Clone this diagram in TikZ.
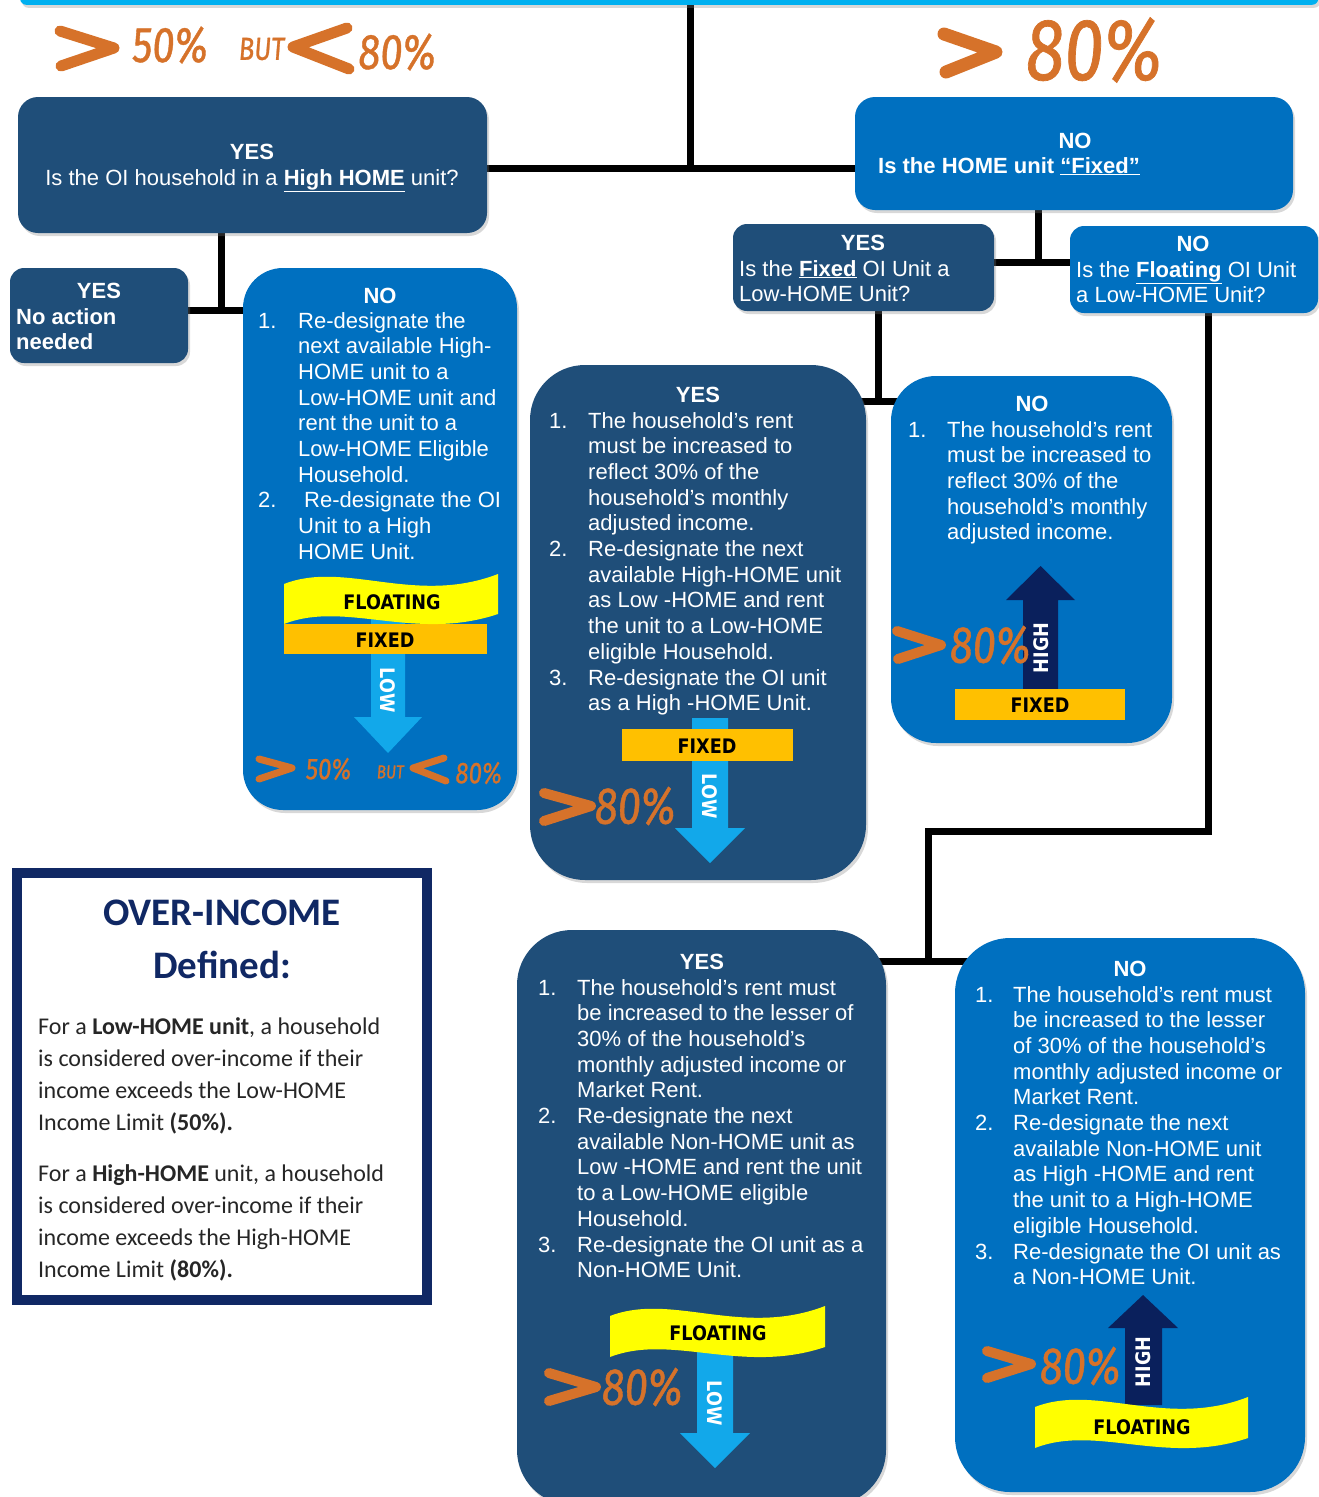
\documentclass[tikz,border=0pt]{standalone}
\usepackage{fontspec}
\setmainfont{Liberation Sans}
\newfontfamily\calfont{Carlito}
\newfontfamily\handfont[FakeStretch=0.8,FakeSlant=0.08,FakeBold=0.8]{Fira Sans}
\newfontfamily\tagfont[FakeStretch=0.88]{DejaVu Sans}
\usetikzlibrary{shadows,backgrounds}

\definecolor{boxnavy}{RGB}{31,78,121}
\definecolor{boxblue}{RGB}{0,112,192}
\definecolor{barcyan}{RGB}{0,176,240}
\definecolor{markorange}{RGB}{214,114,42}
\definecolor{floatyellow}{RGB}{255,255,0}
\definecolor{fixedgold}{RGB}{255,192,0}
\definecolor{lowcyan}{RGB}{18,168,234}
\definecolor{highnavy}{RGB}{10,32,92}
\definecolor{defnavy}{RGB}{16,40,100}

\tikzset{
  navybox/.style={fill=boxnavy, drop shadow={opacity=0.3,shadow xshift=2pt,shadow yshift=-3pt}},
  bluebox/.style={fill=boxblue, drop shadow={opacity=0.3,shadow xshift=2pt,shadow yshift=-3pt}},
  link/.style={line width=7pt, black},
  txt/.style={text=white, inner sep=0pt, font={\fontsize{22}{25.7}\selectfont}},
  head/.style={txt, font={\bfseries\fontsize{22}{25.7}\selectfont}},
  tag/.style={inner sep=0pt, font={\tagfont\bfseries\fontsize{20}{24}\selectfont}},
  hand/.style={inner sep=0pt, text=markorange},
  brush/.style={markorange, line width=9pt, line cap=round, line join=round},
}

\begin{document}
\begin{tikzpicture}[x=1pt,y=-1pt]
\useasboundingbox (0,0) rectangle (1318,1497);

% boxes
\node[fill=barcyan, minimum width=1298pt, minimum height=40pt, inner sep=0pt, anchor=south west, rounded corners=6pt,
  drop shadow={opacity=0.3,shadow xshift=2pt,shadow yshift=-3pt}] (topbar) at (20,5) {};
\node[navybox, rounded corners=20pt, minimum width=469pt, minimum height=136pt] (q1) at (252.5,165) {};
\node[bluebox, rounded corners=20pt, minimum width=438pt, minimum height=113pt] (q2) at (1074,153.5) {};
\node[navybox, rounded corners=14pt, minimum width=178pt, minimum height=95pt] (yesna) at (99,315.5) {};
\node[bluebox, rounded corners=40pt, minimum width=274pt, minimum height=542pt] (nolow) at (380,539) {};
\node[navybox, rounded corners=14pt, minimum width=261pt, minimum height=87pt] (yesq) at (863.5,267.5) {};
\node[bluebox, rounded corners=14pt, minimum width=248pt, minimum height=87pt] (noq) at (1194,269.5) {};
\node[navybox, rounded corners=55pt, minimum width=336pt, minimum height=515pt] (yesfix) at (698,622.5) {};
\node[bluebox, rounded corners=45pt, minimum width=281pt, minimum height=367pt] (nofix) at (1031.5,559.5) {};
\node[navybox, rounded corners=55pt, minimum width=369pt, minimum height=575pt] (yesnon) at (701.5,1217.5) {};
\node[bluebox, rounded corners=55pt, minimum width=350pt, minimum height=554pt] (nonon) at (1130,1215) {};
\node[draw=defnavy, line width=10pt, fill=white, minimum width=410pt, minimum height=427pt,
  drop shadow={opacity=0.3,shadow xshift=2pt,shadow yshift=-3pt}] (defbox) at (222,1086.5) {};

% orange marks on top
\draw[brush, line width=11pt] (60,31) -- (114,48) -- (61,66);
\node[hand, font={\handfont\fontsize{50}{50}\selectfont}] (m50) at (169,45) {50\%};
\node[hand, font={\handfont\fontsize{32}{32}\selectfont}] (mbut) at (261,49) {BUT};
\draw[brush, line width=11pt] (347,28) -- (293,47) -- (349,69);
\node[hand, font={\handfont\fontsize{50}{50}\selectfont}] (m80) at (396,52) {80\%};
\draw[brush, line width=13pt] (944,34) -- (996,52) -- (946,72);
\node[hand, font={\handfont\fontsize{88}{88}\selectfont}] (mtop80) at (1092,50) {80\%};

% nolow inner picture
\fill[lowcyan] (371,615) -- (405,615) -- (405,717) -- (422,717) -- (388,753) -- (354,717) -- (371,717) -- cycle;
\fill[fixedgold] (284,624) rectangle (487,654);
\fill[floatyellow] (284,584) .. controls (345,560) and (415,606) .. (498,574) -- (498,614)
  .. controls (415,642) and (345,600) .. (284,624) -- cycle;
\node[tag] (flt1) at (392,602) {FLOATING};
\node[tag] (fix1) at (385,640) {FIXED};
\node[tag, text=white, rotate=-90] (low1) at (388,690) {LOW};
\draw[brush, line width=7pt] (259,759) -- (292,768) -- (259,779);
\node[hand, font={\handfont\fontsize{30}{30}\selectfont}] (n50) at (328,769) {50\%};
\node[hand, font={\handfont\fontsize{19}{19}\selectfont}] (nbut) at (390,772) {BUT};
\draw[brush, line width=7pt] (444,758) -- (413,768) -- (446,781);
\node[hand, font={\handfont\fontsize{30}{30}\selectfont}] (n80) at (478,773) {80\%};

% yesfix inner picture
\fill[lowcyan] (692,718) -- (728,718) -- (728,828) -- (745,828) -- (710,863) -- (675,828) -- (692,828) -- cycle;
\fill[fixedgold] (622,729) rectangle (793,761);
\node[tag] (fix2) at (707,746) {FIXED};
\node[tag, text=white, rotate=-90] (low2) at (710,796) {LOW};
\draw[brush, line width=10pt] (544,793) -- (591,806) -- (544,821);
\node[hand, font={\handfont\fontsize{52}{52}\selectfont}] (y80) at (634,806) {80\%};

% nofix inner picture
\fill[highnavy] (1023,690) -- (1058,690) -- (1058,600) -- (1075,600) -- (1040.5,566) -- (1006,600) -- (1023,600) -- cycle;
\fill[fixedgold] (955,689) rectangle (1125,720);
\node[tag] (fix3) at (1040,705) {FIXED};
\node[tag, text=white, rotate=90] (high1) at (1041,648) {HIGH};
\draw[brush, line width=10pt] (897,631) -- (941,645) -- (898,659);
\node[hand, font={\handfont\fontsize{52}{52}\selectfont}] (x80) at (989,645) {80\%};

% yesnon inner picture
\fill[lowcyan] (697,1340) -- (733,1340) -- (733,1433) -- (750,1433) -- (715,1468) -- (680,1433) -- (697,1433) -- cycle;
\fill[floatyellow] (610,1316) .. controls (672,1292) and (742,1338) .. (825,1306) -- (825,1347)
  .. controls (742,1375) and (672,1333) .. (610,1357) -- cycle;
\node[tag] (flt2) at (718,1333) {FLOATING};
\node[tag, text=white, rotate=-90] (low3) at (715,1403) {LOW};
\draw[brush, line width=10pt] (549,1373) -- (596,1387) -- (549,1401);
\node[hand, font={\handfont\fontsize{52}{52}\selectfont}] (w80) at (641,1387) {80\%};

% nonon inner picture
\fill[highnavy] (1125,1405) -- (1162,1405) -- (1162,1328) -- (1178,1328) -- (1143,1295) -- (1108,1328) -- (1125,1328) -- cycle;
\fill[floatyellow] (1035,1407) .. controls (1096,1383) and (1166,1429) .. (1248,1397) -- (1248,1438)
  .. controls (1166,1466) and (1096,1424) .. (1035,1448) -- cycle;
\node[tag] (flt3) at (1142,1427) {FLOATING};
\node[tag, text=white, rotate=90] (high2) at (1143,1362) {HIGH};
\draw[brush, line width=10pt] (987,1351) -- (1031,1364) -- (987,1378);
\node[hand, font={\handfont\fontsize{52}{52}\selectfont}] (v80) at (1079,1366) {80\%};

% box texts
\node[head, anchor=base] (q1head) at (252,159) {YES};
\node[txt, anchor=base] (q1text) at (252,185) {Is the OI household in a \underline{\textbf{High HOME}} unit?};
\node[head, anchor=base] (q2head) at (1075,148) {NO};
\node[head, anchor=base west] (q2text) at (878,173) {Is the HOME unit \underline{“Fixed”}};
\node[head, anchor=base] (yesnahead) at (99,298) {YES};
\node[head, anchor=base west] (yesnatext) at (16,324) {\begin{tabular}[t]{@{}l@{}}No action\\needed\end{tabular}};
\node[head, anchor=base] (yesqhead) at (863,250) {YES};
\node[txt, anchor=base west] (yesqtext) at (739,276)
  {\begin{tabular}[t]{@{}l@{}}Is the \underline{\textbf{Fixed}} OI Unit a\\Low-HOME Unit?\end{tabular}};
\node[head, anchor=base] (noqhead) at (1193,251) {NO};
\node[txt, anchor=base west] (noqtext) at (1076,277)
  {\begin{tabular}[t]{@{}l@{}}Is the \underline{\textbf{Floating}} OI Unit\\a Low-HOME Unit?\end{tabular}};

\node[head, anchor=base] (nolowhead) at (380,303) {NO};
\node[txt, anchor=base west] (nolowtext) at (258,328)
  {\begin{tabular}[t]{@{}p{40pt}@{}l@{}}
  1. & Re-designate the\\
     & next available High-\\
     & HOME unit to a\\
     & Low-HOME unit and\\
     & rent the unit to a\\
     & Low-HOME Eligible\\
     & Household.\\
  2. & \hspace{6pt}Re-designate the OI\\
     & Unit to a High\\
     & HOME Unit.
  \end{tabular}};

\node[head, anchor=base] (yesfixhead) at (698,402) {YES};
\node[txt, anchor=base west] (yesfixtext) at (549,428)
  {\begin{tabular}[t]{@{}p{39pt}@{}l@{}}
  1. & The household’s rent\\
     & must be increased to\\
     & reflect 30\% of the\\
     & household’s monthly\\
     & adjusted income.\\
  2. & Re-designate the next\\
     & available High-HOME unit\\
     & as Low -HOME and rent\\
     & the unit to a Low-HOME\\
     & eligible Household.\\
  3. & Re-designate the OI unit\\
     & as a High -HOME Unit.
  \end{tabular}};

\node[head, anchor=base] (nofixhead) at (1032,411) {NO};
\node[txt, anchor=base west] (nofixtext) at (908,437)
  {\begin{tabular}[t]{@{}p{39pt}@{}l@{}}
  1. & The household’s rent\\
     & must be increased to\\
     & reflect 30\% of the\\
     & household’s monthly\\
     & adjusted income.
  \end{tabular}};

\node[head, anchor=base] (yesnonhead) at (702,969) {YES};
\node[txt, anchor=base west] (yesnontext) at (538,995)
  {\begin{tabular}[t]{@{}p{39pt}@{}l@{}}
  1. & The household’s rent must\\
     & be increased to the lesser of\\
     & 30\% of the household’s\\
     & monthly adjusted income or\\
     & Market Rent.\\
  2. & Re-designate the next\\
     & available Non-HOME unit as\\
     & Low -HOME and rent the unit\\
     & to a Low-HOME eligible\\
     & Household.\\
  3. & Re-designate the OI unit as a\\
     & Non-HOME Unit.
  \end{tabular}};

\node[head, anchor=base] (nononhead) at (1130,976) {NO};
\node[txt, anchor=base west] (nonontext) at (975,1002)
  {\begin{tabular}[t]{@{}p{38pt}@{}l@{}}
  1. & The household’s rent must\\
     & be increased to the lesser\\
     & of 30\% of the household’s\\
     & monthly adjusted income or\\
     & Market Rent.\\
  2. & Re-designate the next\\
     & available Non-HOME unit\\
     & as High -HOME and rent\\
     & the unit to a High-HOME\\
     & eligible Household.\\
  3. & Re-designate the OI unit as\\
     & a Non-HOME Unit.
  \end{tabular}};

% definition box
\node[inner sep=0pt, text=defnavy, font={\calfont\bfseries\fontsize{39}{53}\selectfont}, anchor=base] (deftitle) at (222,925) {OVER-INCOME};
\node[inner sep=0pt, text=defnavy, font={\calfont\bfseries\fontsize{39}{53}\selectfont}, anchor=base] (defsub) at (222,978) {Defined:};
\node[inner sep=0pt, text=black!85, font={\calfont\fontsize{24}{32}\selectfont}, anchor=base west] (deflow) at (38,1034)
  {\begin{tabular}[t]{@{}l@{}}
  For a \textbf{Low-HOME unit}, a household\\
  is considered over-income if their\\
  income exceeds the Low-HOME\\
  Income Limit \textbf{(50\%).}
  \end{tabular}};
\node[inner sep=0pt, text=black!85, font={\calfont\fontsize{24}{32}\selectfont}, anchor=base west] (defhigh) at (38,1181)
  {\begin{tabular}[t]{@{}l@{}}
  For a \textbf{High-HOME} unit, a household\\
  is considered over-income if their\\
  income exceeds the High-HOME\\
  Income Limit \textbf{(80\%).}
  \end{tabular}};

% connectors
\coordinate (jtop) at (690,168);
\coordinate (jq1) at (221,310);
\coordinate (jq2) at (1038,262);
\coordinate (jyq) at (878,401);
\coordinate (jnq) at (1208,831);
\coordinate (jbot) at (928,961);
\begin{pgfonlayer}{background}
\fill[white] (0,0) rectangle (1318,1497);
\draw[link] (topbar.south -| jtop) -- (jtop);
\draw[link] (q1.center |- jtop) -- (q2.center |- jtop);
\draw[link] (q1.south -| jq1) -- (jq1);
\draw[link] (yesna.center |- jq1) -- (nolow.center |- jq1);
\draw[link] (q2.south -| jq2) -- (jq2);
\draw[link] (yesq.center |- jq2) -- (noq.center |- jq2);
\draw[link] (yesq.south -| jyq) -- (jyq);
\draw[link] (yesfix.center |- jyq) -- (nofix.center |- jyq);
\draw[link] (noq.south -| jnq) -- (jnq) -- (jnq -| jbot) -- (jbot);
\draw[link] (yesnon.center |- jbot) -- (nonon.center |- jbot);
\end{pgfonlayer}
\end{tikzpicture}
\end{document}
